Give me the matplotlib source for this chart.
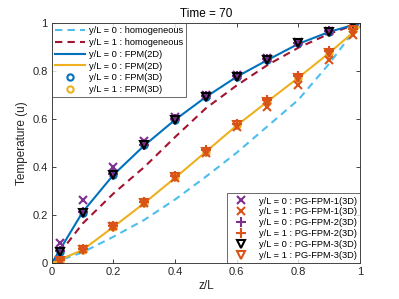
"""Temperature profiles along z/L at Time = 70."""

import matplotlib.pyplot as plt

plt.rcParams["font.family"] = ["Liberation Sans", "DejaVu Sans"]

# homogeneous and 2D reference curves
z_line = [0.0, 0.1, 0.2, 0.3, 0.4, 0.5, 0.6, 0.7, 0.8, 0.9, 1.0]
hom_y0 = [0.0, 0.045, 0.11, 0.18, 0.265, 0.36, 0.46, 0.57, 0.68, 0.83, 1.0]
hom_y1 = [0.0, 0.165, 0.29, 0.40, 0.525, 0.645, 0.74, 0.825, 0.897, 0.955, 1.0]
fpm2d_y0 = [0.0, 0.213, 0.368, 0.49, 0.597, 0.692, 0.776, 0.846, 0.913, 0.963, 1.0]
fpm2d_y1 = [0.0, 0.055, 0.151, 0.25, 0.355, 0.464, 0.573, 0.673, 0.772, 0.875, 0.985]

# 3D sample points
z_pts = [0.026, 0.1, 0.2, 0.3, 0.4, 0.5, 0.6, 0.7, 0.8, 0.9, 0.978]
fpm3d_y0 = [0.047, 0.21, 0.367, 0.49, 0.596, 0.69, 0.776, 0.846, 0.915, 0.964, 0.999]
fpm3d_y1 = [0.008, 0.054, 0.151, 0.25, 0.357, 0.464, 0.575, 0.672, 0.77, 0.876, 0.97]
pg1_y0 = [0.085, 0.262, 0.40, 0.51, 0.61, 0.70, 0.785, 0.855, 0.92, 0.967, 1.0]
pg1_y1 = [0.01, 0.06, 0.155, 0.25, 0.355, 0.46, 0.565, 0.65, 0.742, 0.845, 0.95]
pg2_y0 = [0.05, 0.213, 0.37, 0.493, 0.6, 0.694, 0.78, 0.85, 0.918, 0.967, 1.0]
pg2_y1 = [0.012, 0.058, 0.155, 0.255, 0.362, 0.47, 0.58, 0.68, 0.778, 0.882, 0.975]
pg3_y0 = [0.047, 0.21, 0.367, 0.49, 0.596, 0.69, 0.776, 0.846, 0.915, 0.964, 0.999]
pg3_y1 = [0.008, 0.054, 0.151, 0.25, 0.357, 0.464, 0.575, 0.672, 0.77, 0.876, 0.97]

C_LBLUE = "#4DBEEE"
C_DRED = "#A2142F"
C_BLUE = "#0072BD"
C_YEL = "#EDB120"
C_PURP = "#7E2F8E"
C_ORNG = "#D95319"

fig = plt.figure(figsize=(3.99, 2.99), dpi=100)
ax = fig.add_axes([0.130, 0.120, 0.772, 0.803])

h1 = []
h1 += ax.plot(z_line, hom_y0, "--", color=C_LBLUE, lw=1.5, dashes=(3.5, 2.5),
              label="y/L = 0 : homogeneous")
h1 += ax.plot(z_line, hom_y1, "--", color=C_DRED, lw=1.5, dashes=(3.5, 2.5),
              label="y/L = 1 : homogeneous")
h1 += ax.plot(z_line, fpm2d_y0, "-", color=C_BLUE, lw=1.5,
              label="y/L = 0 : FPM(2D)")
h1 += ax.plot(z_line, fpm2d_y1, "-", color=C_YEL, lw=1.5,
              label="y/L = 0 : FPM(2D)")
h1 += ax.plot(z_pts, fpm3d_y0, "o", color=C_BLUE, mfc="none", ms=4.5, mew=1.5,
              label="y/L = 0 : FPM(3D)")
h1 += ax.plot(z_pts, fpm3d_y1, "o", color=C_YEL, mfc="none", ms=4.5, mew=1.5,
              label="y/L = 1 : FPM(3D)")

h2 = []
h2 += ax.plot(z_pts, pg1_y0, "x", color=C_PURP, ms=6, mew=1.5,
              label="y/L = 0 : PG-FPM-1(3D)")
h2 += ax.plot(z_pts, pg1_y1, "x", color=C_ORNG, ms=6, mew=1.5,
              label="y/L = 1 : PG-FPM-1(3D)")
h2 += ax.plot(z_pts, pg2_y0, "+", color=C_PURP, ms=7, mew=1.5,
              label="y/L = 0 : PG-FPM-2(3D)")
h2 += ax.plot(z_pts, pg2_y1, "+", color=C_ORNG, ms=7, mew=1.5,
              label="y/L = 1 : PG-FPM-2(3D)")
h2 += ax.plot(z_pts, pg3_y0, "v", color="black", mfc="none", ms=6, mew=1.5,
              label="y/L = 0 : PG-FPM-3(3D)")
h2 += ax.plot(z_pts, pg3_y1, "v", color=C_ORNG, mfc="none", ms=6, mew=1.5,
              label="y/L = 1 : PG-FPM-3(3D)")

ax.set_xlim(0, 1)
ax.set_ylim(0, 1)
ax.set_xticks([0, 0.2, 0.4, 0.6, 0.8, 1])
ax.set_xticklabels(["0", "0.2", "0.4", "0.6", "0.8", "1"])
ax.set_yticks([0, 0.2, 0.4, 0.6, 0.8, 1])
ax.set_yticklabels(["0", "0.2", "0.4", "0.6", "0.8", "1"])
ax.tick_params(direction="in", top=True, right=True, length=3, width=0.6,
               labelsize=8, colors="#262626", pad=3)
for sp in ax.spines.values():
    sp.set_linewidth(0.6)
    sp.set_color("#262626")
ax.set_xlabel("z/L", fontsize=8.5, color="#262626", labelpad=2)
ax.set_ylabel("Temperature (u)", fontsize=8.5, color="#262626", labelpad=3)
ax.set_title("Time = 70", fontsize=8.5, color="black", pad=4)

leg1 = ax.legend(handles=h1, loc="upper left", fontsize=6.7, frameon=True,
                 fancybox=False, edgecolor="#262626", borderaxespad=0,
                 handlelength=3.2, handletextpad=0.4, labelspacing=0.3,
                 borderpad=0.35)
leg1.get_frame().set_linewidth(0.6)
ax.add_artist(leg1)
leg2 = ax.legend(handles=h2, loc="lower right", fontsize=6.7, frameon=True,
                 fancybox=False, edgecolor="#262626", borderaxespad=0,
                 handlelength=2.5, handletextpad=0.6, labelspacing=0.2,
                 borderpad=0.35)
leg2.get_frame().set_linewidth(0.6)

fig.savefig("out.png", dpi=100)
